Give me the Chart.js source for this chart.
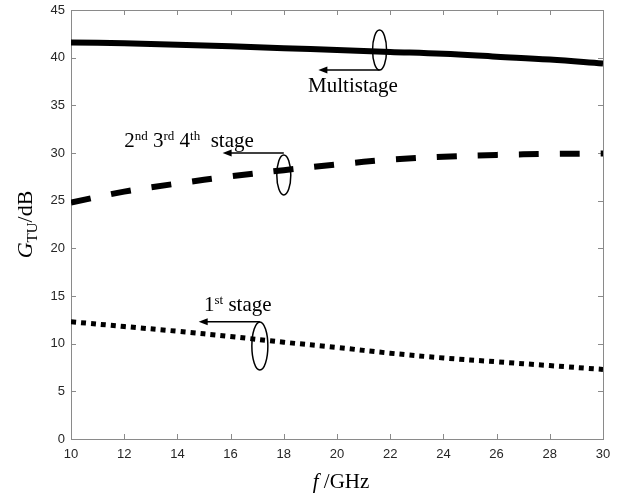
<!DOCTYPE html>
<html>
<head>
<meta charset="utf-8">
<script src="https://cdn.jsdelivr.net/npm/chart.js@4/dist/chart.umd.min.js"></script>
<style>
  html, body { margin: 0; padding: 0; background: #fff; }
  #wrap { width: 619px; height: 497px; }
</style>
</head>
<body>
<div id="wrap"><canvas id="chart" width="619" height="497"></canvas></div>
<script>
// frequency points (GHz)
const freqs = [10, 12, 14, 16, 18, 20, 22, 24, 26, 28, 30];
// transducer gain (dB)
const multistage = [41.6, 41.5, 41.35, 41.2, 41.0, 40.8, 40.6, 40.4, 40.1, 39.8, 39.4];
const stages234 = [24.8, 25.95, 26.8, 27.55, 28.2, 28.8, 29.3, 29.6, 29.8, 29.9, 29.95];
const stage1 = [12.3, 11.8, 11.3, 10.75, 10.15, 9.6, 9.0, 8.5, 8.1, 7.7, 7.3];
const xTicks = [10, 12, 14, 16, 18, 20, 22, 24, 26, 28, 30];
const yTicks = [0, 5, 10, 15, 20, 25, 30, 35, 40, 45];

const SERIF = '"Liberation Serif", "DejaVu Serif", serif';
const SANS = '"Liberation Sans", Arial, sans-serif';
const AXIS_GRAY = "#8a8a8a";

// callouts: ellipse round the curve, arrow to the left, label
const notes = [
  { ex: 21.6, ey: 40.8, rx: 7, ry: 20, ay: 38.7, ax: 19.3, tx: 20.6, ty: 36.4, align: "center",
    parts: [["Multistage", 0]] },
  { ex: 18.0, ey: 27.7, rx: 7, ry: 20, ay: 30.0, ax: 15.7, tx: 12.0, ty: 30.6, align: "left",
    parts: [["2", 0], ["nd", 1], [" 3", 0], ["rd", 1], [" 4", 0], ["th", 1], ["  stage", 0]] },
  { ex: 17.1, ey: 9.75, rx: 8, ry: 24, ay: 12.3, ax: 14.8, tx: 15.0, ty: 13.4, align: "left",
    parts: [["1", 0], ["st", 1], [" stage", 0]] }
];

function toPoints(ys) {
  return freqs.map((f, i) => ({ x: f, y: ys[i] }));
}

function drawParts(ctx, parts, x, y, align) {
  const fontFor = (sup) => (sup ? "13px " : "21px ") + SERIF;
  let total = 0;
  parts.forEach(([t, sup]) => { ctx.font = fontFor(sup); total += ctx.measureText(t).width; });
  let cx = align === "center" ? x - total / 2 : x;
  ctx.textAlign = "left";
  ctx.textBaseline = "alphabetic";
  parts.forEach(([t, sup]) => {
    ctx.font = fontFor(sup);
    ctx.fillText(t, cx, sup ? y - 7 : y);
    cx += ctx.measureText(t).width;
  });
}

const framePlugin = {
  id: "frame",
  beforeDatasetsDraw(chart) {
    const { ctx, chartArea: a, scales } = chart;
    ctx.save();
    ctx.strokeStyle = AXIS_GRAY;
    ctx.lineWidth = 1;
    ctx.strokeRect(Math.round(a.left) + 0.5, Math.round(a.top) + 0.5, Math.round(a.right - a.left), Math.round(a.bottom - a.top));
    ctx.beginPath();
    xTicks.forEach((v) => {
      const px = Math.round(scales.x.getPixelForValue(v)) + 0.5;
      ctx.moveTo(px, a.bottom); ctx.lineTo(px, a.bottom - 5);
      ctx.moveTo(px, a.top); ctx.lineTo(px, a.top + 5);
    });
    yTicks.forEach((v) => {
      const py = Math.round(scales.y.getPixelForValue(v)) + 0.5;
      ctx.moveTo(a.left, py); ctx.lineTo(a.left + 5, py);
      ctx.moveTo(a.right, py); ctx.lineTo(a.right - 5, py);
    });
    ctx.stroke();
    ctx.restore();
  },
  afterDraw(chart) {
    const { ctx, chartArea: a, scales } = chart;
    const X = (v) => scales.x.getPixelForValue(v);
    const Y = (v) => scales.y.getPixelForValue(v);
    ctx.save();
    ctx.fillStyle = "#000";
    ctx.strokeStyle = "#000";
    ctx.lineWidth = 1.5;
    notes.forEach((n) => {
      const ex = X(n.ex), ey = Y(n.ey);
      ctx.beginPath();
      ctx.ellipse(ex, ey, n.rx, n.ry, 0, 0, Math.PI * 2);
      ctx.stroke();
      const ay = Y(n.ay), ax = X(n.ax);
      ctx.beginPath();
      ctx.moveTo(ex, ay); ctx.lineTo(ax + 6, ay);
      ctx.stroke();
      ctx.beginPath();
      ctx.moveTo(ax, ay); ctx.lineTo(ax + 9, ay - 3.5); ctx.lineTo(ax + 9, ay + 3.5);
      ctx.closePath();
      ctx.fill();
      drawParts(ctx, n.parts, X(n.tx), Y(n.ty), n.align);
    });

    // y axis title: G_TU/dB
    ctx.save();
    ctx.translate(32, (a.top + a.bottom) / 2);
    ctx.rotate(-Math.PI / 2);
    const segs = [["G", "italic 22px " + SERIF, 0], ["TU", "15px " + SERIF, 5], ["/dB", "22px " + SERIF, 0]];
    let w = 0;
    segs.forEach(([t, f]) => { ctx.font = f; w += ctx.measureText(t).width; });
    let cx = -w / 2;
    ctx.textBaseline = "alphabetic";
    segs.forEach(([t, f, dy]) => { ctx.font = f; ctx.fillText(t, cx, dy); cx += ctx.measureText(t).width; });
    ctx.restore();

    // x axis title: f /GHz
    const xs = [["f", "italic 21px " + SERIF], [" /GHz", "21px " + SERIF]];
    let xw = 0;
    xs.forEach(([t, f]) => { ctx.font = f; xw += ctx.measureText(t).width; });
    let xx = (a.left + a.right) / 2 + 4 - xw / 2;
    ctx.textBaseline = "alphabetic";
    xs.forEach(([t, f]) => { ctx.font = f; ctx.fillText(t, xx, 488); xx += ctx.measureText(t).width; });
    ctx.restore();
  }
};

const lineStyle = { borderColor: "#000", pointRadius: 0, fill: false, tension: 0.4, borderCapStyle: "butt" };

new Chart(document.getElementById("chart"), {
  type: "line",
  data: {
    datasets: [
      { label: "Multistage", data: toPoints(multistage), borderWidth: 6, ...lineStyle },
      { label: "2nd 3rd 4th stage", data: toPoints(stages234), borderWidth: 6, borderDash: [20, 21], ...lineStyle },
      { label: "1st stage", data: toPoints(stage1), borderWidth: 5, borderDash: [5, 5], ...lineStyle }
    ]
  },
  options: {
    responsive: false,
    animation: false,
    layout: { padding: { top: 10, right: 16, left: 0, bottom: 0 } },
    plugins: { legend: { display: false }, tooltip: { enabled: false } },
    scales: {
      x: {
        type: "linear", min: 10, max: 30,
        grid: { display: false, drawTicks: false }, border: { display: false },
        afterBuildTicks: (s) => { s.ticks = xTicks.map((v) => ({ value: v })); },
        afterFit: (s) => { s.height = 58; s.paddingLeft = 0; s.paddingRight = 0; },
        ticks: { padding: 8, color: "#262626", font: { family: SANS, size: 13 }, maxRotation: 0 }
      },
      y: {
        type: "linear", min: 0, max: 45,
        grid: { display: false, drawTicks: false }, border: { display: false },
        afterBuildTicks: (s) => { s.ticks = yTicks.map((v) => ({ value: v })); },
        afterFit: (s) => { s.width = 71; s.paddingTop = 0; s.paddingBottom = 0; },
        ticks: { padding: 6, color: "#262626", font: { family: SANS, size: 13 } }
      }
    }
  },
  plugins: [framePlugin]
});
</script>
</body>
</html>
